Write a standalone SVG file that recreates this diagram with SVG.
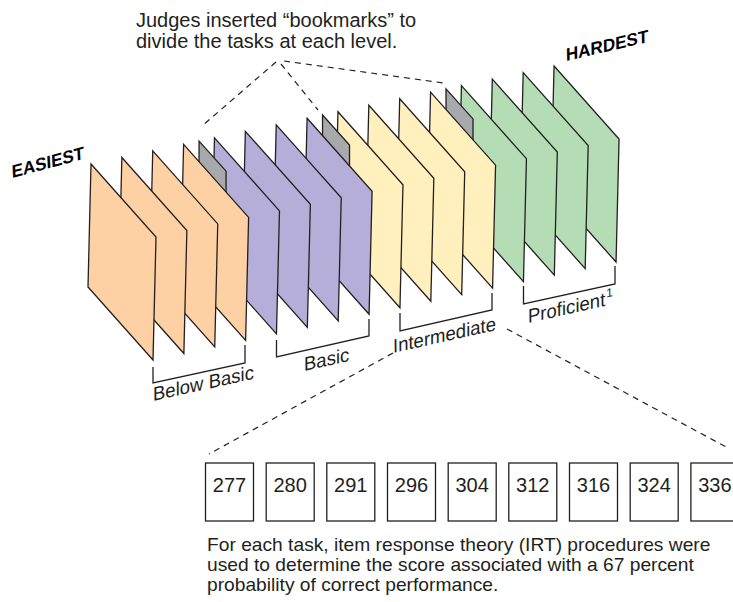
<svg xmlns="http://www.w3.org/2000/svg" width="733" height="602" viewBox="0 0 733 602">
<style>
  .sh { stroke:#231F20; stroke-width:1.3; stroke-linejoin:miter; }
  .or { fill:#FDD1A4; }
  .pu { fill:#B4AED8; }
  .ye { fill:#FFF0BD; }
  .gr { fill:#B4DDB6; }
  .gy { fill:#A7A9AC; }
  .br { fill:none; stroke:#231F20; stroke-width:1.3; }
  .dash { fill:none; stroke:#231F20; stroke-width:1.2; stroke-dasharray:6 5; }
  .box { fill:#FFFFFF; stroke:#231F20; stroke-width:1.3; }
  .t { font-family:"Liberation Sans", Arial, sans-serif; fill:#231F20; }
  .lbl { font-family:"Liberation Sans", Arial, sans-serif; font-size:19px; fill:#231F20; }
  .big { font-family:"Liberation Sans", Arial, sans-serif; font-weight:bold; font-size:17.5px; fill:#000; }
  .num { font-family:"Liberation Sans", Arial, sans-serif; font-size:20px; fill:#231F20; text-anchor:middle; }
</style>
<defs>
  <path id="sheet" d="M0,0 L65,73 L62,196 L-3,123 Z"/>
  <path id="mark" d="M0,0 L27,30 L27,52 L0,60 Z"/>
</defs>

<g id="connectors">
  <path class="dash" d="M276,62 L202,126"/>
  <path class="dash" d="M281,64 L318,110"/>
  <path class="dash" d="M284,61 L444,83"/>
  <path class="dash" d="M393,353 L209,454"/>
  <path class="dash" d="M507,329 L728,448"/>
</g>

<g id="proficient-sheets">
  <use href="#sheet" class="sh gr" x="554.05" y="66.05"/>
  <use href="#sheet" class="sh gr" x="523.18" y="72.58"/>
  <use href="#sheet" class="sh gr" x="492.31" y="79.11"/>
  <use href="#sheet" class="sh gr" x="461.44" y="85.64"/>
</g>
<g id="bookmark-3"><use href="#mark" class="sh gy" x="446.01" y="88.91"/></g>
<g id="intermediate-sheets">
  <use href="#sheet" class="sh ye" x="430.57" y="92.17"/>
  <use href="#sheet" class="sh ye" x="399.7" y="98.7"/>
  <use href="#sheet" class="sh ye" x="368.83" y="105.23"/>
  <use href="#sheet" class="sh ye" x="337.96" y="111.76"/>
</g>
<g id="bookmark-2"><use href="#mark" class="sh gy" x="322.53" y="115.03"/></g>
<g id="basic-sheets">
  <use href="#sheet" class="sh pu" x="307.09" y="118.29"/>
  <use href="#sheet" class="sh pu" x="276.22" y="124.82"/>
  <use href="#sheet" class="sh pu" x="245.35" y="131.35"/>
  <use href="#sheet" class="sh pu" x="214.48" y="137.88"/>
</g>
<g id="bookmark-1"><use href="#mark" class="sh gy" x="199.05" y="141.15"/></g>
<g id="below-basic-sheets">
  <use href="#sheet" class="sh or" x="183.61" y="144.41"/>
  <use href="#sheet" class="sh or" x="152.74" y="150.94"/>
  <use href="#sheet" class="sh or" x="121.87" y="157.47"/>
  <use href="#sheet" class="sh or" x="91" y="164"/>
</g>

<g id="bracket-below-basic">
  <path class="br" d="M153,367 V383 L245,363 V345"/>
  <text class="lbl" x="0" y="0" transform="translate(153 401) rotate(-12.5) skewX(-12)">Below Basic</text>
</g>
<g id="bracket-basic">
  <path class="br" d="M276.5,340 V357 L369,336 V319"/>
  <text class="lbl" x="0" y="0" transform="translate(304 371) rotate(-12.5) skewX(-12)">Basic</text>
</g>
<g id="bracket-intermediate">
  <path class="br" d="M400,313 V331 L492,310 V293"/>
  <text class="lbl" x="0" y="0" transform="translate(393 353) rotate(-12.5) skewX(-12)">Intermediate</text>
</g>
<g id="bracket-proficient">
  <path class="br" d="M523.5,286 V304 L615,284 V266"/>
  <text class="lbl" x="0" y="0" transform="translate(528 323) rotate(-12.5) skewX(-12)">Proficient<tspan dx="1" dy="-8" font-size="12">1</tspan></text>
</g>

<g id="label-easiest">
  <text class="big" x="0" y="0" transform="translate(12 178) rotate(-15) skewX(-12)">EASIEST</text>
</g>
<g id="label-hardest">
  <text class="big" x="0" y="0" transform="translate(566 61) rotate(-13) skewX(-12)">HARDEST</text>
</g>

<g id="note-top">
  <text class="t" font-size="20" x="136" y="27">Judges inserted “bookmarks” to</text>
  <text class="t" font-size="20" x="136" y="48">divide the tasks at each level.</text>
</g>

<g id="box-277"><rect class="box" x="205.5" y="463" width="48" height="58"/><text class="num" x="229.5" y="492">277</text></g>
<g id="box-280"><rect class="box" x="266.2" y="463" width="48" height="58"/><text class="num" x="290.2" y="492">280</text></g>
<g id="box-291"><rect class="box" x="326.8" y="463" width="48" height="58"/><text class="num" x="350.8" y="492">291</text></g>
<g id="box-296"><rect class="box" x="387.5" y="463" width="48" height="58"/><text class="num" x="411.5" y="492">296</text></g>
<g id="box-304"><rect class="box" x="448.2" y="463" width="48" height="58"/><text class="num" x="472.2" y="492">304</text></g>
<g id="box-312"><rect class="box" x="508.8" y="463" width="48" height="58"/><text class="num" x="532.8" y="492">312</text></g>
<g id="box-316"><rect class="box" x="569.5" y="463" width="48" height="58"/><text class="num" x="593.5" y="492">316</text></g>
<g id="box-324"><rect class="box" x="630.2" y="463" width="48" height="58"/><text class="num" x="654.2" y="492">324</text></g>
<g id="box-336"><rect class="box" x="690.9" y="463" width="48" height="58"/><text class="num" x="714.9" y="492">336</text></g>

<g id="note-bottom">
  <text class="t" font-size="19.2" x="207" y="551">For each task, item response theory (IRT) procedures were</text>
  <text class="t" font-size="19.2" x="207" y="571">used to determine the score associated with a 67 percent</text>
  <text class="t" font-size="19.2" x="207" y="591">probability of correct performance.</text>
</g>
</svg>
